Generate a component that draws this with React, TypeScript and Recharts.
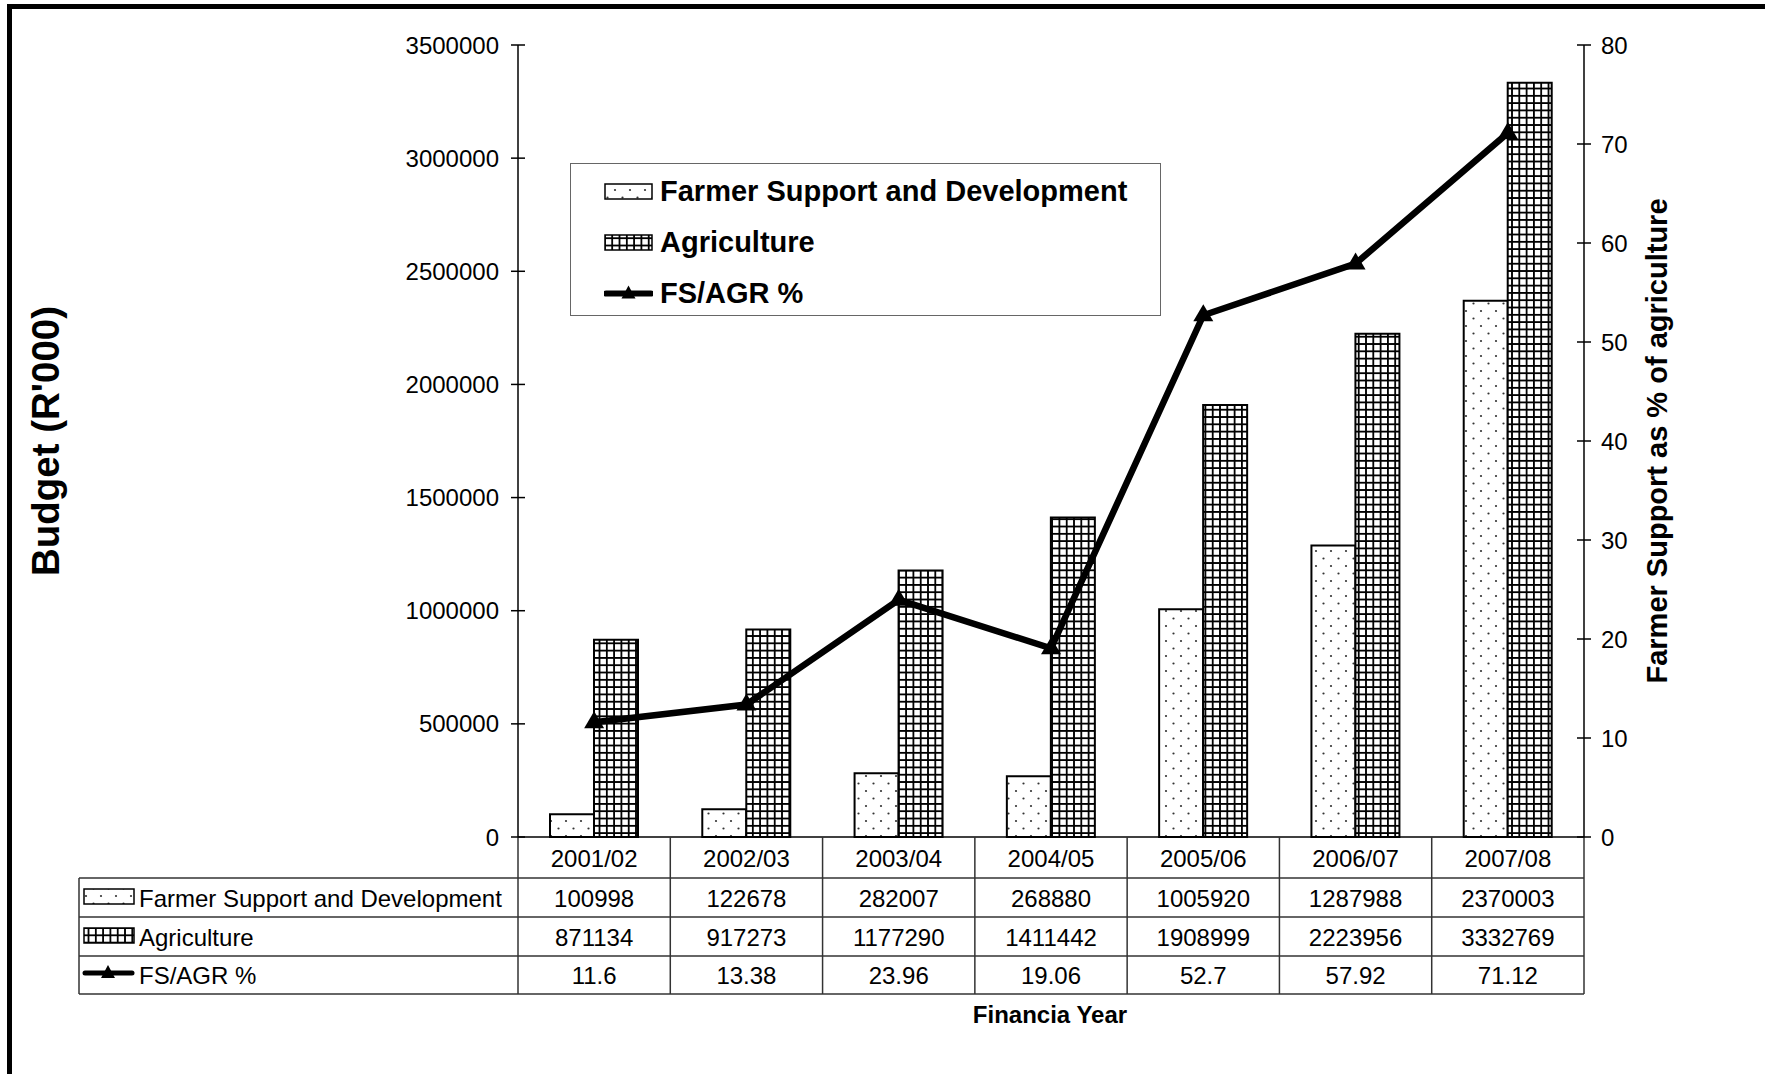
import React from "react";
import { ComposedChart, Bar, Line, XAxis, YAxis, Legend } from "recharts";

const years = ["2001/02", "2002/03", "2003/04", "2004/05", "2005/06", "2006/07", "2007/08"];
const farmerSupport = [100998, 122678, 282007, 268880, 1005920, 1287988, 2370003];
const agriculture = [871134, 917273, 1177290, 1411442, 1908999, 2223956, 3332769];
const fsAgrPct = [11.6, 13.38, 23.96, 19.06, 52.7, 57.92, 71.12];
const budgetTicks = [0, 500000, 1000000, 1500000, 2000000, 2500000, 3000000, 3500000];
const pctTicks = [0, 10, 20, 30, 40, 50, 60, 70, 80];

const data = years.map((year, i) => ({
  year,
  fs: farmerSupport[i],
  agr: agriculture[i],
  pct: fsAgrPct[i],
}));

const W = 1765;
const H = 1074;
const PLOT_L = 518;
const PLOT_R = 1584;
const PLOT_T = 45;
const PLOT_B = 837;
const TABLE_L = 79;
const ROW_LINES = [878, 917, 956, 994];
const FONT = "'Liberation Sans', Arial, Helvetica, sans-serif";

const LeftTick = (props: any) => {
  const { y, payload } = props;
  return (
    <g>
      <line x1={PLOT_L - 7} x2={PLOT_L + 7} y1={y} y2={y} stroke="#000" strokeWidth={1.5} />
      <text x={PLOT_L - 19} y={y} textAnchor="end" dominantBaseline="central" fontSize={24} fontFamily={FONT} fill="#000">
        {payload.value}
      </text>
    </g>
  );
};

const RightTick = (props: any) => {
  const { y, payload } = props;
  return (
    <g>
      <line x1={PLOT_R - 7} x2={PLOT_R + 7} y1={y} y2={y} stroke="#000" strokeWidth={1.5} />
      <text x={PLOT_R + 17} y={y} textAnchor="start" dominantBaseline="central" fontSize={24} fontFamily={FONT} fill="#000">
        {payload.value}
      </text>
    </g>
  );
};

// x axis ticks double as the data table columns
const TableTick = (props: any) => {
  const { x, payload } = props;
  const i = years.indexOf(payload.value);
  const half = (PLOT_R - PLOT_L) / years.length / 2;
  const t = { x, textAnchor: "middle" as const, dominantBaseline: "central" as const, fontSize: 24, fontFamily: FONT, fill: "#000" };
  return (
    <g>
      <text {...t} y={858}>{payload.value}</text>
      <text {...t} y={898}>{farmerSupport[i]}</text>
      <text {...t} y={937}>{agriculture[i]}</text>
      <text {...t} y={975}>{fsAgrPct[i]}</text>
      <line x1={x + half} x2={x + half} y1={PLOT_B} y2={ROW_LINES[3]} stroke="#333" strokeWidth={1.5} />
      {i === 0 && <line x1={x - half} x2={x - half} y1={PLOT_B} y2={ROW_LINES[3]} stroke="#333" strokeWidth={1.5} />}
    </g>
  );
};

const Triangle = (props: any) => {
  const { cx, cy, index } = props;
  if (cx == null || cy == null) return <g key={index} />;
  return <path key={index} d={`M${cx},${cy - 11} L${cx - 10},${cy + 6} L${cx + 10},${cy + 6} Z`} fill="#000" />;
};

const Swatch = ({ kind, w, h }: { kind: string; w: number; h: number }) => (
  <svg width={w} height={h + 8} style={{ display: "block" }}>
    {kind === "line" ? (
      <g>
        <line x1={2} x2={w - 2} y1={(h + 8) / 2} y2={(h + 8) / 2} stroke="#000" strokeWidth={6} strokeLinecap="round" />
        <path d={`M${w / 2},${(h + 8) / 2 - 8} L${w / 2 - 7},${(h + 8) / 2 + 5} L${w / 2 + 7},${(h + 8) / 2 + 5} Z`} fill="#000" />
      </g>
    ) : (
      <rect x={1} y={5} width={w - 2} height={h - 2} fill={kind === "dots" ? "url(#dots)" : "url(#grid)"} stroke="#000" strokeWidth={1.5} />
    )}
  </svg>
);

const legendItems = [
  { label: "Farmer Support and Development", kind: "dots" },
  { label: "Agriculture", kind: "grid" },
  { label: "FS/AGR %", kind: "line" },
];

const LegendBox = () => (
  <div
    style={{
      width: 591,
      height: 153,
      boxSizing: "border-box",
      border: "1.5px solid #666",
      position: "relative",
      fontFamily: FONT,
      fontWeight: "bold",
      fontSize: 29,
      background: "#fff",
    }}
  >
    {legendItems.map((it, k) => (
      <div key={it.label} style={{ position: "absolute", left: 33, top: 27 + k * 51 - 15, height: 30, display: "flex", alignItems: "center" }}>
        <Swatch kind={it.kind} w={49} h={17} />
        <span style={{ marginLeft: 7, lineHeight: "30px", whiteSpace: "nowrap" }}>{it.label}</span>
      </div>
    ))}
  </div>
);

export default function App() {
  const rowMid = [898, 937, 975];
  return (
    <div style={{ position: "relative", width: W, height: H, background: "#fff" }}>
      <style>{"body{margin:0}"}</style>
      <ComposedChart
        width={W}
        height={H}
        data={data}
        margin={{ top: PLOT_T, right: W - PLOT_R - 100, left: PLOT_L - 100, bottom: H - PLOT_B - 157 }}
        barGap={0}
      >
        <defs>
          <pattern id="dots" patternUnits="userSpaceOnUse" width={15} height={15}>
            <rect width={15} height={15} fill="#fff" />
            <circle cx={3.5} cy={3.5} r={1.1} fill="#333" />
            <circle cx={11} cy={11} r={1.1} fill="#333" />
          </pattern>
          <pattern id="grid" patternUnits="userSpaceOnUse" width={7.3} height={7.3}>
            <rect width={7.3} height={7.3} fill="#fff" />
            <path d="M0,0.9 H7.3 M0.9,0 V7.3" stroke="#000" strokeWidth={1.8} />
          </pattern>
        </defs>
        <XAxis
          dataKey="year"
          xAxisId={0}
          height={157}
          interval={0}
          tickLine={false}
          axisLine={{ stroke: "#000", strokeWidth: 1.5 }}
          tick={<TableTick />}
        />
        <YAxis
          yAxisId="left"
          orientation="left"
          width={100}
          domain={[0, 3500000]}
          ticks={budgetTicks}
          interval={0}
          tickLine={false}
          axisLine={{ stroke: "#000", strokeWidth: 1.5 }}
          tick={<LeftTick />}
        />
        <YAxis
          yAxisId="right"
          orientation="right"
          width={100}
          domain={[0, 80]}
          ticks={pctTicks}
          interval={0}
          tickLine={false}
          axisLine={{ stroke: "#000", strokeWidth: 1.5 }}
          tick={<RightTick />}
        />
        <Legend
          content={<LegendBox />}
          layout="horizontal"
          verticalAlign="middle"
          align="center"
          wrapperStyle={{ left: 570, top: 163, width: 591, height: 153 }}
        />
        <Bar yAxisId="left" dataKey="fs" name="Farmer Support and Development" fill="url(#dots)" stroke="#000" strokeWidth={2} barSize={44} isAnimationActive={false} />
        <Bar yAxisId="left" dataKey="agr" name="Agriculture" fill="url(#grid)" stroke="#000" strokeWidth={2} barSize={44} isAnimationActive={false} />
        <Line
          yAxisId="right"
          type="linear"
          dataKey="pct"
          name="FS/AGR %"
          stroke="#000"
          strokeWidth={6.5}
          dot={(p: any) => <Triangle {...p} key={p.index} />}
          activeDot={false}
          isAnimationActive={false}
        />
      </ComposedChart>
      <svg width={W} height={H} style={{ position: "absolute", left: 0, top: 0, pointerEvents: "none" }} fontFamily={FONT}>
        <rect x={7} y={4} width={W - 7} height={5} fill="#000" />
        <rect x={7} y={4} width={5} height={H - 4} fill="#000" />
        <text x={45} y={441} transform="rotate(-90 45 441)" textAnchor="middle" dominantBaseline="central" fontSize={38.5} fontWeight="bold">
          Budget (R'000)
        </text>
        <text x={1657} y={441} transform="rotate(-90 1657 441)" textAnchor="middle" dominantBaseline="central" fontSize={29} fontWeight="bold">
          Farmer Support as % of agriculture
        </text>
        <text x={1050} y={1014} textAnchor="middle" dominantBaseline="central" fontSize={24} fontWeight="bold">
          Financia Year
        </text>
        {ROW_LINES.map((y) => (
          <line key={y} x1={TABLE_L} x2={PLOT_R} y1={y} y2={y} stroke="#333" strokeWidth={1.5} />
        ))}
        <line x1={TABLE_L} x2={TABLE_L} y1={ROW_LINES[0]} y2={ROW_LINES[3]} stroke="#333" strokeWidth={1.5} />
        {legendItems.map((it, k) => (
          <g key={it.label}>
            {it.kind === "line" ? (
              <g>
                <line x1={85} x2={132} y1={rowMid[k] - 2} y2={rowMid[k] - 2} stroke="#000" strokeWidth={5} strokeLinecap="round" />
                <path d={`M108,${rowMid[k] - 10} L101,${rowMid[k] + 3} L115,${rowMid[k] + 3} Z`} fill="#000" />
              </g>
            ) : (
              <rect x={84} y={rowMid[k] - 9} width={50} height={15} fill={it.kind === "dots" ? "url(#dots)" : "url(#grid)"} stroke="#000" strokeWidth={1.5} />
            )}
            <text x={139} y={rowMid[k]} dominantBaseline="central" fontSize={24}>
              {it.label}
            </text>
          </g>
        ))}
      </svg>
    </div>
  );
}
